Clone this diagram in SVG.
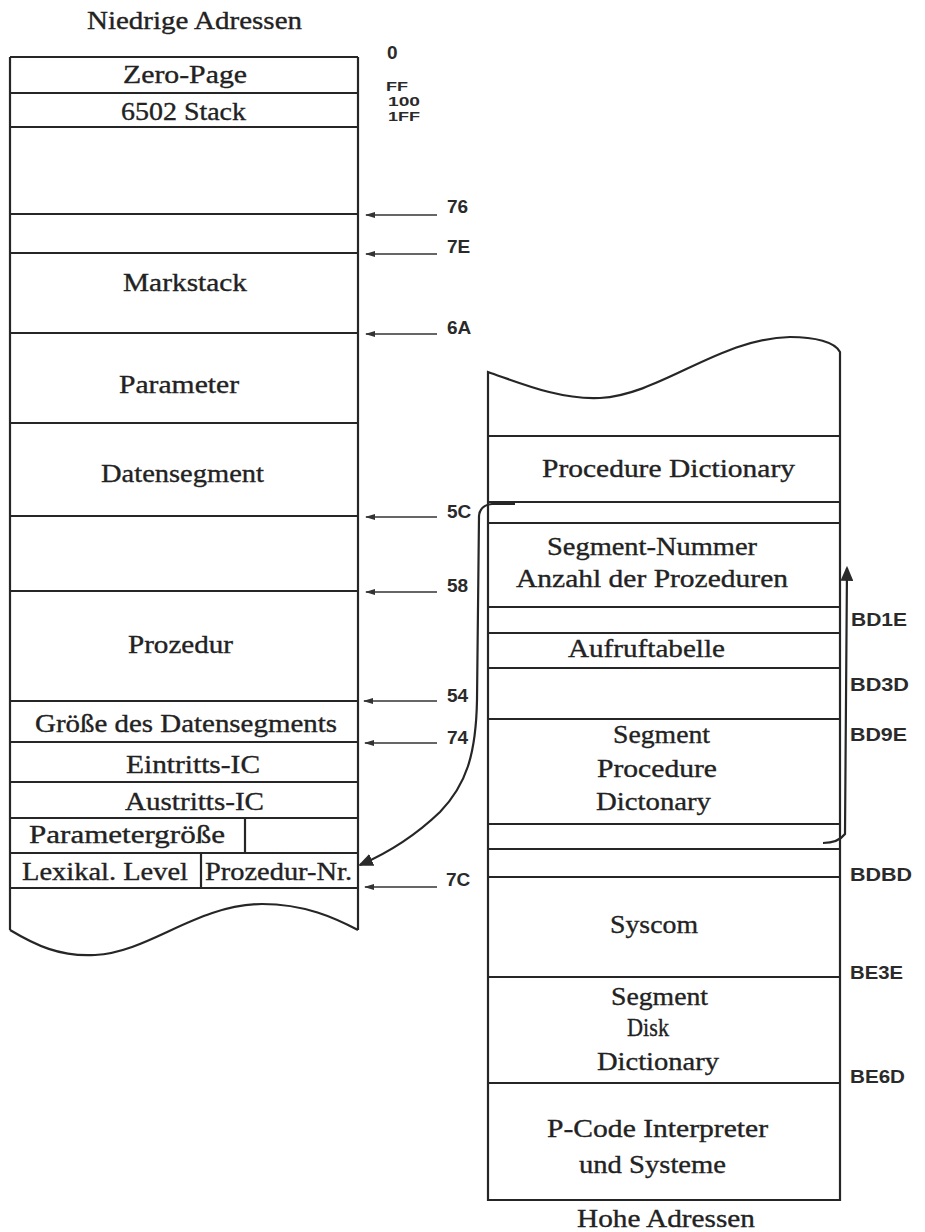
<svg xmlns="http://www.w3.org/2000/svg" width="925" height="1232" viewBox="0 0 925 1232">
<defs>
<style>
.bx{fill:none;stroke:#262626;stroke-width:2.2}
.ln{stroke:#262626;stroke-width:2.2;fill:none}
.t{font-family:"Liberation Serif","Times New Roman",serif;font-size:26px;fill:#222;stroke:#222;stroke-width:0.35}
.a{font-family:"Liberation Sans",Arial,sans-serif;font-size:19px;font-weight:bold;fill:#2a2a2a}
.ar{stroke:#333;stroke-width:1.7;fill:none}
</style>
<marker id="sm" viewBox="0 0 10 6" refX="9" refY="3" markerWidth="10" markerHeight="6" markerUnits="userSpaceOnUse" orient="auto">
<path d="M0,0 L10,3 L0,6 z" fill="#333"/>
</marker>
<marker id="big" viewBox="0 0 14 12" refX="12" refY="6" markerWidth="15" markerHeight="13" markerUnits="userSpaceOnUse" orient="auto">
<path d="M0,0 L14,6 L0,12 z" fill="#2a2a2a"/>
</marker>
</defs>
<rect width="925" height="1232" fill="#fff"/>

<g id="labels-top">
<text class="t" x="87" y="29" textLength="215" lengthAdjust="spacingAndGlyphs">Niedrige Adressen</text>
<text class="a" x="387" y="59">0</text>
<text class="a" transform="translate(386,91) scale(1,0.7)" textLength="22" lengthAdjust="spacingAndGlyphs">FF</text>
<text class="a" transform="translate(388,106) scale(1,0.7)" textLength="32" lengthAdjust="spacingAndGlyphs">100</text>
<text class="a" transform="translate(388,121) scale(1,0.7)" textLength="32" lengthAdjust="spacingAndGlyphs">1FF</text>
</g>

<g id="stack-left">
<path class="bx" d="M10,57 L358,57 M10,57 L10,930 M358,57 L358,930"/>
<path class="bx" d="M10,930 C35,945 60,957 95,955 C150,952 195,905 262,904 C305,904 335,918 358,930"/>
<g class="ln">
<line x1="10" y1="93" x2="358" y2="93"/>
<line x1="10" y1="127" x2="358" y2="127"/>
<line x1="10" y1="214" x2="358" y2="214"/>
<line x1="10" y1="253" x2="358" y2="253"/>
<line x1="10" y1="333" x2="358" y2="333"/>
<line x1="10" y1="423" x2="358" y2="423"/>
<line x1="10" y1="516" x2="358" y2="516"/>
<line x1="10" y1="591" x2="358" y2="591"/>
<line x1="10" y1="701" x2="358" y2="701"/>
<line x1="10" y1="742" x2="358" y2="742"/>
<line x1="10" y1="782" x2="358" y2="782"/>
<line x1="10" y1="818" x2="358" y2="818"/>
<line x1="10" y1="853" x2="358" y2="853"/>
<line x1="10" y1="888" x2="358" y2="888"/>
<line x1="245" y1="818" x2="245" y2="853"/>
<line x1="201" y1="853" x2="201" y2="888"/>
</g>
</g>
<g id="n-zeropage"><text class="t" x="123" y="83" textLength="124" lengthAdjust="spacingAndGlyphs">Zero-Page</text></g>
<g id="n-6502stack"><text class="t" x="121" y="120" textLength="125" lengthAdjust="spacingAndGlyphs">6502 Stack</text></g>
<g id="n-markstack"><text class="t" x="123" y="291" textLength="124" lengthAdjust="spacingAndGlyphs">Markstack</text></g>
<g id="n-parameter"><text class="t" x="119" y="393" textLength="120" lengthAdjust="spacingAndGlyphs">Parameter</text></g>
<g id="n-datensegment"><text class="t" x="101" y="482" textLength="163" lengthAdjust="spacingAndGlyphs">Datensegment</text></g>
<g id="n-prozedur"><text class="t" x="128" y="653" textLength="105" lengthAdjust="spacingAndGlyphs">Prozedur</text></g>
<g id="n-groesse"><text class="t" x="35" y="732" textLength="302" lengthAdjust="spacingAndGlyphs">Größe des Datensegments</text></g>
<g id="n-eintritt"><text class="t" x="126" y="773" textLength="134" lengthAdjust="spacingAndGlyphs">Eintritts-IC</text></g>
<g id="n-austritt"><text class="t" x="125" y="810" textLength="139" lengthAdjust="spacingAndGlyphs">Austritts-IC</text></g>
<g id="n-paramgroesse"><text class="t" x="29" y="843" textLength="196" lengthAdjust="spacingAndGlyphs">Parametergröße</text></g>
<g id="n-lexlevel"><text class="t" x="22" y="880" textLength="166" lengthAdjust="spacingAndGlyphs">Lexikal. Level</text></g>
<g id="n-prozedurnr"><text class="t" x="205" y="880" textLength="147" lengthAdjust="spacingAndGlyphs">Prozedur-Nr.</text></g>

<g id="stack-right">
<path class="bx" d="M488,1200 L488,372 C520,383 560,400 600,398 C660,395 720,338 790,337 C815,337 835,342 840,352 L840,1200 Z"/>
<g class="ln">
<line x1="488" y1="436" x2="840" y2="436"/>
<line x1="488" y1="502" x2="840" y2="502"/>
<line x1="488" y1="523" x2="840" y2="523"/>
<line x1="488" y1="607" x2="840" y2="607"/>
<line x1="488" y1="633" x2="840" y2="633"/>
<line x1="488" y1="668" x2="840" y2="668"/>
<line x1="488" y1="719" x2="840" y2="719"/>
<line x1="488" y1="824" x2="840" y2="824"/>
<line x1="488" y1="849" x2="840" y2="849"/>
<line x1="488" y1="877" x2="840" y2="877"/>
<line x1="488" y1="977" x2="840" y2="977"/>
<line x1="488" y1="1083" x2="840" y2="1083"/>
</g>
</g>
<g id="n-procdict"><text class="t" x="542" y="477" textLength="253" lengthAdjust="spacingAndGlyphs">Procedure Dictionary</text></g>
<g id="n-segnum">
<text class="t" x="547" y="555" textLength="210" lengthAdjust="spacingAndGlyphs">Segment-Nummer</text>
<text class="t" x="516" y="587" textLength="272" lengthAdjust="spacingAndGlyphs">Anzahl der Prozeduren</text>
</g>
<g id="n-aufruf"><text class="t" x="568" y="657" textLength="157" lengthAdjust="spacingAndGlyphs">Aufruftabelle</text></g>
<g id="n-segprocdict">
<text class="t" x="613" y="743" textLength="97" lengthAdjust="spacingAndGlyphs">Segment</text>
<text class="t" x="597" y="777" textLength="120" lengthAdjust="spacingAndGlyphs">Procedure</text>
<text class="t" x="596" y="810" textLength="115" lengthAdjust="spacingAndGlyphs">Dictonary</text>
</g>
<g id="n-syscom"><text class="t" x="610" y="933" textLength="88" lengthAdjust="spacingAndGlyphs">Syscom</text></g>
<g id="n-segdisk">
<text class="t" x="611" y="1005" textLength="97" lengthAdjust="spacingAndGlyphs">Segment</text>
<text class="t" x="627" y="1036" textLength="42" lengthAdjust="spacingAndGlyphs">Disk</text>
<text class="t" x="597" y="1070" textLength="122" lengthAdjust="spacingAndGlyphs">Dictionary</text>
</g>
<g id="n-pcode">
<text class="t" x="547" y="1137" textLength="221" lengthAdjust="spacingAndGlyphs">P-Code Interpreter</text>
<text class="t" x="579" y="1173" textLength="147" lengthAdjust="spacingAndGlyphs">und Systeme</text>
</g>
<g id="n-hohe"><text class="t" x="577" y="1227" textLength="178" lengthAdjust="spacingAndGlyphs">Hohe Adressen</text></g>

<g id="addr-right">
<text class="a" x="851" y="626" textLength="56" lengthAdjust="spacingAndGlyphs">BD1E</text>
<text class="a" x="850" y="691" textLength="59" lengthAdjust="spacingAndGlyphs">BD3D</text>
<text class="a" x="850" y="741" textLength="57" lengthAdjust="spacingAndGlyphs">BD9E</text>
<text class="a" x="850" y="881" textLength="62" lengthAdjust="spacingAndGlyphs">BDBD</text>
<text class="a" x="850" y="979" textLength="53" lengthAdjust="spacingAndGlyphs">BE3E</text>
<text class="a" x="850" y="1083" textLength="55" lengthAdjust="spacingAndGlyphs">BE6D</text>
</g>

<g id="connectors">
<line class="ar" x1="437" y1="215" x2="366" y2="215" marker-end="url(#sm)"/>
<line class="ar" x1="437" y1="254" x2="366" y2="254" marker-end="url(#sm)"/>
<line class="ar" x1="437" y1="334" x2="366" y2="334" marker-end="url(#sm)"/>
<line class="ar" x1="437" y1="517" x2="366" y2="517" marker-end="url(#sm)"/>
<line class="ar" x1="437" y1="592" x2="366" y2="592" marker-end="url(#sm)"/>
<line class="ar" x1="437" y1="701" x2="364" y2="701" marker-end="url(#sm)"/>
<line class="ar" x1="437" y1="743" x2="365" y2="743" marker-end="url(#sm)"/>
<line class="ar" x1="437" y1="887" x2="365" y2="887" marker-end="url(#sm)"/>
<path class="ln" d="M515,504 L492,504 Q480,505 479,516 L477,700 C476,755 466,785 440,812 C415,836 390,852 360,865" marker-end="url(#big)"/>
<path class="ln" d="M823,843 Q838,843 845,834 L847,568" marker-end="url(#big)"/>
</g>
<g id="addr-left">
<text class="a" x="447" y="213">76</text>
<text class="a" x="447" y="253">7E</text>
<text class="a" x="447" y="334">6A</text>
<text class="a" x="447" y="518">5C</text>
<text class="a" x="447" y="592">58</text>
<text class="a" x="447" y="702">54</text>
<text class="a" x="447" y="744">74</text>
<text class="a" x="446" y="886">7C</text>
</g>
</svg>
